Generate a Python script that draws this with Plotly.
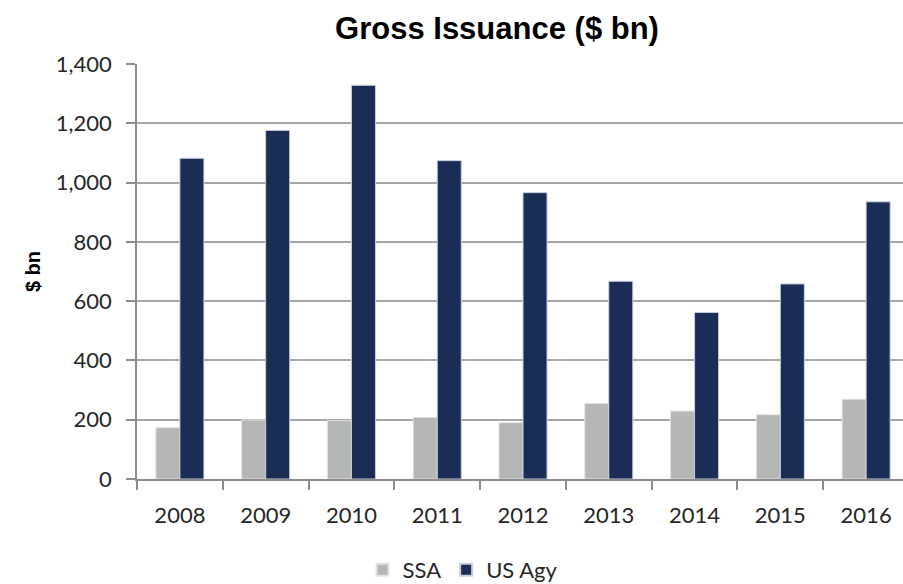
import plotly.graph_objects as go

years = ["2008", "2009", "2010", "2011", "2012", "2013", "2014", "2015", "2016"]
ssa = [173, 199, 197, 208, 190, 255, 229, 217, 269]
us_agy = [1082, 1176, 1328, 1074, 966, 667, 562, 658, 935]
y_ticks = [0, 200, 400, 600, 800, 1000, 1200, 1400]
y_tick_labels = ["0", "200", "400", "600", "800", "1,000", "1,200", "1,400"]

FONT = "Lato, 'Open Sans', sans-serif"
BOLD = "Arial, 'Liberation Sans', sans-serif"

fig = go.Figure()
fig.add_trace(go.Bar(
    name="SSA", x=years, y=ssa,
    marker=dict(color="#B5B7B4", line=dict(color="#E2E3E2", width=1)),
))
fig.add_trace(go.Bar(
    name="US Agy", x=years, y=us_agy,
    marker=dict(color="#1B2D57", line=dict(color="#C9CFDA", width=1)),
))

fig.update_layout(
    width=903, height=584,
    margin=dict(l=137, r=0, t=64, b=105, autoexpand=False),
    paper_bgcolor="white", plot_bgcolor="white",
    barmode="group", bargap=0.44, bargroupgap=0,
    font=dict(family=FONT, size=22, color="#262626"),
    title=dict(
        text="<b>Gross Issuance ($ bn)</b>",
        font=dict(family=BOLD, size=31, color="black"),
        x=0.47, xref="paper", xanchor="center",
        y=0.952, yref="container", yanchor="middle",
    ),
    legend=dict(
        orientation="h", x=0.425, xanchor="center", y=-0.219, yanchor="middle",
        font=dict(family=FONT, size=22, color="#262626"),
        itemsizing="constant", traceorder="normal",
    ),
    showlegend=True,
)

fig.update_xaxes(
    type="category", range=[-0.5, 8.43], automargin=False,
    tickson="boundaries", ticks="outside", ticklen=9, tickcolor="#8C8C8C", tickwidth=1.5,
    ticklabelstandoff=16,
    showline=True, linecolor="#8C8C8C", linewidth=1.5,
    showgrid=False, tickfont=dict(family=FONT, size=22, color="#262626"),
)
fig.update_yaxes(
    range=[0, 1400], tickvals=y_ticks, ticktext=y_tick_labels, automargin=False,
    ticks="outside", ticklen=9, tickcolor="#8C8C8C", tickwidth=1.5,
    ticklabelstandoff=10,
    showline=True, linecolor="#8C8C8C", linewidth=1.5,
    showgrid=True, gridcolor="#A6A6A6", gridwidth=1.5,
    zeroline=False,
    tickfont=dict(family=FONT, size=22, color="#262626"),
    title=dict(text="<b>$ bn</b>", font=dict(family=BOLD, size=20, color="black"), standoff=10),
)

fig.write_html("out.html")
